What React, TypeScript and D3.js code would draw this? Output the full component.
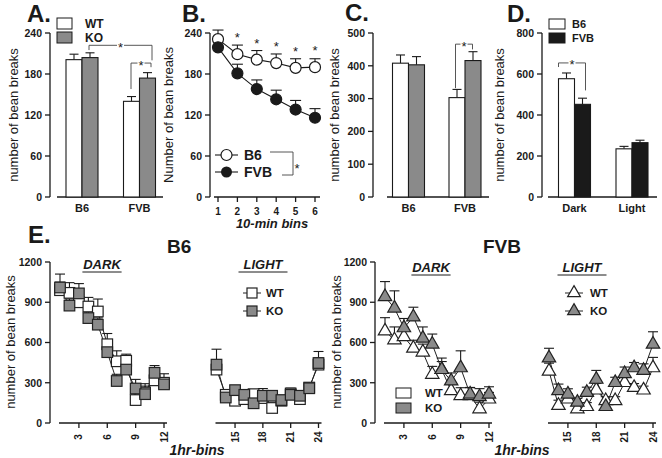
import React from "react";
import * as d3 from "d3";

const FONT = "'Liberation Sans', Arial, Helvetica, sans-serif";
const GRAY = "#8a8a8a";
const INK = "#1a1a1a";

// ---------- Panel A ----------
const aGroups = ["B6", "FVB"];
const aWT = [201, 140];
const aWTErr = [8, 7];
const aKO = [204, 174];
const aKOErr = [7, 8];
const aTicks = [0, 60, 120, 180, 240];

// ---------- Panel B ----------
const bBins = [1, 2, 3, 4, 5, 6];
const bB6 = [231, 209, 201, 196, 189, 190];
const bB6Err = [6, 6, 6, 6, 6, 5];
const bFVB = [219, 181, 158, 143, 128, 116];
const bFVBErr = [5, 6, 6, 6, 6, 6];
const bTicks = [0, 60, 120, 180, 240];

// ---------- Panel C ----------
const cGroups = ["B6", "FVB"];
const cWT = [408, 303];
const cWTErr = [25, 25];
const cKO = [403, 416];
const cKOErr = [25, 27];
const cTicks = [0, 100, 200, 300, 400, 500];

// ---------- Panel D ----------
const dPhases = ["Dark", "Light"];
const dB6 = [577, 235];
const dB6Err = [28, 12];
const dFVB = [452, 265];
const dFVBErr = [30, 12];
const dTicks = [0, 200, 400, 600, 800];

// ---------- Panel E ----------
const eTicks = [0, 300, 600, 900, 1200];
const darkHours = [1, 2, 3, 4, 5, 6, 7, 8, 9, 10, 11, 12];
const lightHours = [13, 14, 15, 16, 17, 18, 19, 20, 21, 22, 23, 24];
const darkTicks = [3, 6, 9, 12];
const lightTicks = [15, 18, 21, 24];

const b6DarkWT = [990, 970, 900, 868, 831, 587, 460, 464, 171, 227, 318, 300];
const b6DarkWTErr = [60, 76, 60, 68, 93, 80, 78, 49, 55, 66, 50, 67];
const b6DarkKO = [1010, 875, 966, 782, 733, 528, 313, 398, 257, 215, 374, 288];
const b6DarkKOErr = [100, 50, 73, 50, 50, 60, 50, 55, 68, 60, 54, 50];

const b6LightWT = [398, 210, 166, 178, 215, 186, 112, 166, 220, 178, 264, 435];
const b6LightWTErr = [40, 30, 30, 30, 30, 40, 30, 30, 40, 35, 30, 50];
const b6LightKO = [435, 190, 245, 210, 147, 203, 203, 171, 210, 203, 259, 447];
const b6LightKOErr = [115, 40, 30, 30, 30, 54, 30, 30, 40, 30, 30, 86];

const fvbDarkWT = [685, 619, 643, 557, 528, 362, 398, 240, 203, 203, 105, 178];
const fvbDarkWTErr = [100, 97, 70, 60, 60, 60, 60, 60, 60, 60, 50, 50];
const fvbDarkKO = [941, 856, 709, 790, 631, 587, 398, 313, 411, 215, 196, 215];
const fvbDarkKOErr = [113, 129, 70, 73, 85, 76, 86, 60, 127, 50, 60, 55];

const fvbLightWT = [386, 130, 178, 105, 122, 245, 166, 166, 301, 264, 245, 411];
const fvbLightWTErr = [60, 40, 40, 30, 30, 50, 30, 30, 40, 30, 30, 78];
const fvbLightKO = [484, 240, 215, 154, 227, 325, 122, 301, 367, 411, 391, 587];
const fvbLightKOErr = [73, 50, 40, 30, 40, 67, 30, 40, 50, 40, 50, 93];

type Lin = d3.ScaleLinear<number, number>;

function YAxis({ x, scale, ticks, fontSize = 10.5 }: { x: number; scale: Lin; ticks: number[]; fontSize?: number }) {
  const [d0, d1] = scale.domain();
  return (
    <g>
      <line x1={x} x2={x} y1={scale(d0)} y2={scale(d1)} stroke={INK} strokeWidth={1.3} />
      {ticks.map((t) => (
        <g key={t}>
          <line x1={x - 5} x2={x} y1={scale(t)} y2={scale(t)} stroke={INK} strokeWidth={1.3} />
          <text x={x - 8} y={scale(t) + 3.8} textAnchor="end" fontSize={fontSize} fontWeight="bold" fill={INK}>
            {t}
          </text>
        </g>
      ))}
    </g>
  );
}

function RotLabel({ x, y, text, size = 13 }: { x: number; y: number; text: string; size?: number }) {
  return (
    <text transform={`translate(${x},${y}) rotate(-90)`} textAnchor="middle" fontSize={size} fill={INK}>
      {text}
    </text>
  );
}

function ErrUp({ x, y0, y1, w = 9 }: { x: number; y0: number; y1: number; w?: number }) {
  return (
    <g stroke={INK} strokeWidth={1.1}>
      <line x1={x} x2={x} y1={y0} y2={y1} />
      <line x1={x - w / 2} x2={x + w / 2} y1={y1} y2={y1} />
    </g>
  );
}

function Bar({ x, w, v, e, y, fill }: { x: number; w: number; v: number; e: number; y: Lin; fill: string }) {
  return (
    <g>
      <ErrUp x={x + w / 2} y0={y(v)} y1={y(v + e)} />
      <rect x={x} y={y(v)} width={w} height={y(0) - y(v)} fill={fill} stroke={INK} strokeWidth={1.1} />
    </g>
  );
}

function Star({ x, y, size = 13 }: { x: number; y: number; size?: number }) {
  return (
    <g>
      <rect x={x - 3.5} y={y - 3} width={7} height={6} fill="#fff" />
      <text x={x} y={y + 6.5} textAnchor="middle" fontSize={size} fill={INK}>
        *
      </text>
    </g>
  );
}

function Bracket({ x1, x2, top, b1, b2 }: { x1: number; x2: number; top: number; b1: number; b2: number }) {
  return (
    <g>
      <path d={`M${x1},${b1}V${top}H${x2}V${b2}`} fill="none" stroke="#444" strokeWidth={0.9} />
      <Star x={(x1 + x2) / 2} y={top} />
    </g>
  );
}

function EPanel({
  x,
  y,
  hours,
  wt,
  wtErr,
  ko,
  koErr,
  ticks,
  shape,
}: {
  x: Lin;
  y: Lin;
  hours: number[];
  wt: number[];
  wtErr: number[];
  ko: number[];
  koErr: number[];
  ticks: number[];
  shape: "square" | "triangle";
}) {
  const line = d3
    .line<number>()
    .x((_, i) => x(hours[i]))
    .y((d) => y(d));
  const tri = d3.symbol().type(d3.symbolTriangle).size(78)()!;
  const marker = (cx: number, cy: number, fill: string, key: string) =>
    shape === "square" ? (
      <rect key={key} x={cx - 5.3} y={cy - 5.3} width={10.6} height={10.6} fill={fill} stroke="#222" strokeWidth={1.2} />
    ) : (
      <path key={key} d={tri} transform={`translate(${cx},${cy})`} fill={fill} stroke="#222" strokeWidth={1.2} />
    );
  const y0 = y(0);
  const xa = x(hours[0]) - 1;
  const xb = x(hours[hours.length - 1]) + 3;
  return (
    <g>
      <line x1={xa} x2={xb} y1={y0} y2={y0} stroke={INK} strokeWidth={1.4} />
      {ticks.map((t) => (
        <g key={t}>
          <line x1={x(t)} x2={x(t)} y1={y0} y2={y0 + 5} stroke={INK} strokeWidth={1.3} />
          <text
            transform={`translate(${x(t) + 3.5},${y0 + 14}) rotate(-90)`}
            textAnchor="middle"
            fontSize={10}
            fontWeight="bold"
            fill={INK}
          >
            {t}
          </text>
        </g>
      ))}
      {hours.map((h, i) => (
        <ErrUp key={"we" + h} x={x(h)} y0={y(wt[i])} y1={y(wt[i] + wtErr[i])} w={10} />
      ))}
      {hours.map((h, i) => (
        <ErrUp key={"ke" + h} x={x(h)} y0={y(ko[i])} y1={y(ko[i] + koErr[i])} w={10} />
      ))}
      <path d={line(wt)!} fill="none" stroke="#222" strokeWidth={1} />
      <path d={line(ko)!} fill="none" stroke="#222" strokeWidth={1} />
      {hours.map((h, i) => marker(x(h), y(wt[i]), "#fff", "wm" + h))}
      {hours.map((h, i) => marker(x(h), y(ko[i]), GRAY, "km" + h))}
    </g>
  );
}

function Title({ x, y, text }: { x: number; y: number; text: string }) {
  return (
    <g>
      <text x={x} y={y} textAnchor="middle" fontSize={13} fontWeight="bold" fontStyle="italic" fill={INK}>
        {text}
      </text>
      <line x1={x - text.length * 4.9} x2={x + text.length * 4.9} y1={y + 3} y2={y + 3} stroke={INK} strokeWidth={1} />
    </g>
  );
}

export default function App() {
  // ---- A ----
  const aY = d3.scaleLinear().domain([0, 240]).range([197, 33]);
  const aX = d3.scalePoint<string>().domain(aGroups).range([82, 139.5]);
  const sub = d3.scaleBand<string>().domain(["first", "second"]).range([-16, 16]);
  const bw = sub.bandwidth();

  // ---- B ----
  const bY = d3.scaleLinear().domain([0, 240]).range([197, 33]);
  const bX = d3.scaleLinear().domain([1, 6]).range([218, 315]);
  const bLine = d3
    .line<number>()
    .x((_, i) => bX(bBins[i]))
    .y((d) => bY(d));

  // ---- C ----
  const cY = d3.scaleLinear().domain([0, 500]).range([197, 33]);
  const cX = d3.scalePoint<string>().domain(cGroups).range([408.5, 465]);

  // ---- D ----
  const dY = d3.scaleLinear().domain([0, 800]).range([197, 33]);
  const dX = d3.scalePoint<string>().domain(dPhases).range([574.5, 632]);

  // ---- E ----
  const eY = d3.scaleLinear().domain([0, 1200]).range([423, 262]);
  const b6DarkX = d3.scaleLinear().domain([1, 12]).range([60, 164]);
  const b6LightX = d3.scaleLinear().domain([13, 24]).range([216.5, 318.5]);
  const fvbDarkX = d3.scaleLinear().domain([1, 12]).range([385, 489]);
  const fvbLightX = d3.scaleLinear().domain([13, 24]).range([549, 653]);

  const sq = (cx: number, cy: number, fill: string) => (
    <rect x={cx - 5} y={cy - 5} width={10} height={10} fill={fill} stroke="#222" strokeWidth={1.2} />
  );
  const triPath = d3.symbol().type(d3.symbolTriangle).size(70)()!;
  const tr = (cx: number, cy: number, fill: string) => (
    <path d={triPath} transform={`translate(${cx},${cy})`} fill={fill} stroke="#222" strokeWidth={1.2} />
  );

  return (
    <svg
      width={662}
      height={458}
      viewBox="0 0 662 458"
      style={{ position: "absolute", left: 0, top: 0, background: "#fff" }}
      fontFamily={FONT}
    >
      <rect width={662} height={458} fill="#fff" />

      {/* ================= A ================= */}
      <text x={27} y={22} fontSize={24} fontWeight="bold" fill={INK}>A.</text>
      <YAxis x={50} scale={aY} ticks={aTicks} />
      <line x1={57} x2={163} y1={aY(0)} y2={aY(0)} stroke={INK} strokeWidth={1.4} />
      {aGroups.map((g, i) => (
        <g key={g}>
          <Bar x={aX(g)! + sub("first")!} w={bw} v={aWT[i]} e={aWTErr[i]} y={aY} fill="#fff" />
          <Bar x={aX(g)! + sub("second")!} w={bw} v={aKO[i]} e={aKOErr[i]} y={aY} fill={GRAY} />
          <text x={aX(g)!} y={212} textAnchor="middle" fontSize={11} fontWeight="bold" fill={INK}>{g}</text>
        </g>
      ))}
      <RotLabel x={18} y={115} text="number of bean breaks" />
      <rect x={57} y={18} width={15} height={11} fill="#fff" stroke={INK} strokeWidth={1} />
      <rect x={57} y={32} width={15} height={11} fill={GRAY} stroke={INK} strokeWidth={1} />
      <text x={85} y={28} fontSize={12} fontWeight="bold" fill={INK}>WT</text>
      <text x={85} y={42} fontSize={12} fontWeight="bold" fill={INK}>KO</text>
      <Bracket x1={aX("B6")! + 7} x2={aX("FVB")! + 12.5} top={aY(222)} b1={aY(215)} b2={aY(200)} />
      <Bracket x1={aX("FVB")! - 8.5} x2={aX("FVB")! + 11.5} top={aY(196)} b1={aY(158)} b2={aY(190)} />

      {/* ================= B ================= */}
      <text x={182} y={22} fontSize={24} fontWeight="bold" fill={INK}>B.</text>
      <YAxis x={210} scale={bY} ticks={bTicks} />
      <line x1={214} x2={320} y1={bY(0)} y2={bY(0)} stroke={INK} strokeWidth={1.4} />
      {bBins.map((b) => (
        <g key={b}>
          <line x1={bX(b)} x2={bX(b)} y1={bY(0)} y2={bY(0) + 5} stroke={INK} strokeWidth={1.3} />
          <text x={bX(b)} y={214.5} textAnchor="middle" fontSize={10} fontWeight="bold" fill={INK}>{b}</text>
        </g>
      ))}
      <text x={272} y={228} textAnchor="middle" fontSize={13} fontWeight="bold" fontStyle="italic" fill={INK}>10-min bins</text>
      <RotLabel x={173} y={115} text="Number of bean breaks" />
      {bBins.map((b, i) => (
        <g key={"e" + b}>
          <ErrUp x={bX(b)} y0={bY(bB6[i])} y1={bY(bB6[i] + bB6Err[i]) - 5} w={11} />
          <ErrUp x={bX(b)} y0={bY(bFVB[i])} y1={bY(bFVB[i] + bFVBErr[i]) - 5} w={11} />
        </g>
      ))}
      <path d={bLine(bB6)!} fill="none" stroke={INK} strokeWidth={1.1} />
      <path d={bLine(bFVB)!} fill="none" stroke={INK} strokeWidth={1.1} />
      {bBins.map((b, i) => (
        <g key={"m" + b}>
          <circle cx={bX(b)} cy={bY(bB6[i])} r={5.5} fill="#fff" stroke={INK} strokeWidth={1.2} />
          <circle cx={bX(b)} cy={bY(bFVB[i])} r={5.5} fill={INK} stroke={INK} strokeWidth={1.2} />
          {i > 0 && (
            <text x={bX(b)} y={bY(bB6[i]) - 12} textAnchor="middle" fontSize={13} fill={INK}>*</text>
          )}
        </g>
      ))}
      <line x1={215} x2={238} y1={155} y2={155} stroke={INK} strokeWidth={1.1} />
      <circle cx={226.5} cy={155} r={5.5} fill="#fff" stroke={INK} strokeWidth={1.2} />
      <line x1={215} x2={238} y1={172} y2={172} stroke={INK} strokeWidth={1.1} />
      <circle cx={226.5} cy={172} r={5.5} fill={INK} />
      <text x={244} y={160} fontSize={14} fontWeight="bold" fill={INK}>B6</text>
      <text x={244} y={177} fontSize={14} fontWeight="bold" fill={INK}>FVB</text>
      <path d="M270,152H293V175H282" fill="none" stroke="#444" strokeWidth={0.9} />
      <text x={297} y={173} textAnchor="middle" fontSize={13} fill={INK}>*</text>

      {/* ================= C ================= */}
      <text x={345} y={21} fontSize={24} fontWeight="bold" fill={INK}>C.</text>
      <YAxis x={373} scale={cY} ticks={cTicks} />
      <line x1={387} x2={489} y1={cY(0)} y2={cY(0)} stroke={INK} strokeWidth={1.4} />
      {cGroups.map((g, i) => (
        <g key={g}>
          <Bar x={cX(g)! + sub("first")!} w={bw} v={cWT[i]} e={cWTErr[i]} y={cY} fill="#fff" />
          <Bar x={cX(g)! + sub("second")!} w={bw} v={cKO[i]} e={cKOErr[i]} y={cY} fill={GRAY} />
          <text x={cX(g)!} y={212} textAnchor="middle" fontSize={11} fontWeight="bold" fill={INK}>{g}</text>
        </g>
      ))}
      <RotLabel x={339} y={115} text="number of bean breaks" />
      <Bracket x1={cX("FVB")! - 9.5} x2={cX("FVB")! + 7.5} top={cY(466)} b1={cY(332)} b2={cY(450)} />

      {/* ================= D ================= */}
      <text x={507} y={22} fontSize={24} fontWeight="bold" fill={INK}>D.</text>
      <YAxis x={542} scale={dY} ticks={dTicks} />
      <line x1={548} x2={657} y1={dY(0)} y2={dY(0)} stroke={INK} strokeWidth={1.4} />
      {dPhases.map((g, i) => (
        <g key={g}>
          <Bar x={dX(g)! + sub("first")!} w={bw} v={dB6[i]} e={dB6Err[i]} y={dY} fill="#fff" />
          <Bar x={dX(g)! + sub("second")!} w={bw} v={dFVB[i]} e={dFVBErr[i]} y={dY} fill={INK} />
          <text x={dX(g)!} y={212} textAnchor="middle" fontSize={11} fontWeight="bold" fill={INK}>{g}</text>
        </g>
      ))}
      <RotLabel x={504} y={115} text="number of bean breaks" />
      <rect x={549} y={19} width={16} height={10} fill="#fff" stroke={INK} strokeWidth={1} />
      <rect x={549} y={33} width={16} height={10} fill={INK} stroke={INK} strokeWidth={1} />
      <text x={572} y={28} fontSize={11} fontWeight="bold" fill={INK}>B6</text>
      <text x={572} y={42} fontSize={11} fontWeight="bold" fill={INK}>FVB</text>
      <Bracket x1={dX("Dark")! - 16} x2={dX("Dark")! + 11} top={dY(654)} b1={dY(634)} b2={dY(520)} />

      {/* ================= E ================= */}
      <text x={28} y={243} fontSize={24} fontWeight="bold" fill={INK}>E.</text>
      <text x={167} y={253} fontSize={19} fontWeight="bold" fill={INK}>B6</text>
      <text x={521} y={253} textAnchor="end" fontSize={19} fontWeight="bold" fill={INK}>FVB</text>

      {/* B6 */}
      <YAxis x={50} scale={eY} ticks={eTicks} />
      <RotLabel x={15} y={342} text="number of bean breaks" />
      <Title x={102} y={269} text="DARK" />
      <Title x={263} y={269} text="LIGHT" />
      <EPanel x={b6DarkX} y={eY} hours={darkHours} wt={b6DarkWT} wtErr={b6DarkWTErr} ko={b6DarkKO} koErr={b6DarkKOErr} ticks={darkTicks} shape="square" />
      <EPanel x={b6LightX} y={eY} hours={lightHours} wt={b6LightWT} wtErr={b6LightWTErr} ko={b6LightKO} koErr={b6LightKOErr} ticks={lightTicks} shape="square" />
      <line x1={243} x2={261} y1={293} y2={293} stroke="#222" strokeWidth={1} />
      {sq(252, 293, "#fff")}
      <line x1={243} x2={261} y1={311} y2={311} stroke="#222" strokeWidth={1} />
      {sq(252, 311, GRAY)}
      <text x={266} y={297} fontSize={11.5} fontWeight="bold" fill={INK}>WT</text>
      <text x={266} y={315} fontSize={11.5} fontWeight="bold" fill={INK}>KO</text>
      <text x={197} y={455} textAnchor="middle" fontSize={14} fontWeight="bold" fontStyle="italic" fill={INK}>1hr-bins</text>

      {/* FVB */}
      <YAxis x={375} scale={eY} ticks={eTicks} />
      <RotLabel x={341} y={342} text="number of bean breaks" />
      <Title x={431} y={272} text="DARK" />
      <Title x={582} y={272} text="LIGHT" />
      <EPanel x={fvbDarkX} y={eY} hours={darkHours} wt={fvbDarkWT} wtErr={fvbDarkWTErr} ko={fvbDarkKO} koErr={fvbDarkKOErr} ticks={darkTicks} shape="triangle" />
      <EPanel x={fvbLightX} y={eY} hours={lightHours} wt={fvbLightWT} wtErr={fvbLightWTErr} ko={fvbLightKO} koErr={fvbLightKOErr} ticks={lightTicks} shape="triangle" />
      <rect x={396} y={388} width={15} height={10} fill="#fff" stroke={INK} strokeWidth={1} />
      <rect x={396} y={403} width={15} height={10} fill={GRAY} stroke={INK} strokeWidth={1} />
      <text x={425} y={397} fontSize={11.5} fontWeight="bold" fill={INK}>WT</text>
      <text x={425} y={412} fontSize={11.5} fontWeight="bold" fill={INK}>KO</text>
      <line x1={565} x2={583} y1={293} y2={293} stroke="#222" strokeWidth={1} />
      {tr(574, 293, "#fff")}
      <line x1={565} x2={583} y1={311} y2={311} stroke="#222" strokeWidth={1} />
      {tr(574, 311, GRAY)}
      <text x={590} y={297} fontSize={11.5} fontWeight="bold" fill={INK}>WT</text>
      <text x={590} y={315} fontSize={11.5} fontWeight="bold" fill={INK}>KO</text>
      <text x={522} y={455} textAnchor="middle" fontSize={14} fontWeight="bold" fontStyle="italic" fill={INK}>1hr-bins</text>
    </svg>
  );
}
